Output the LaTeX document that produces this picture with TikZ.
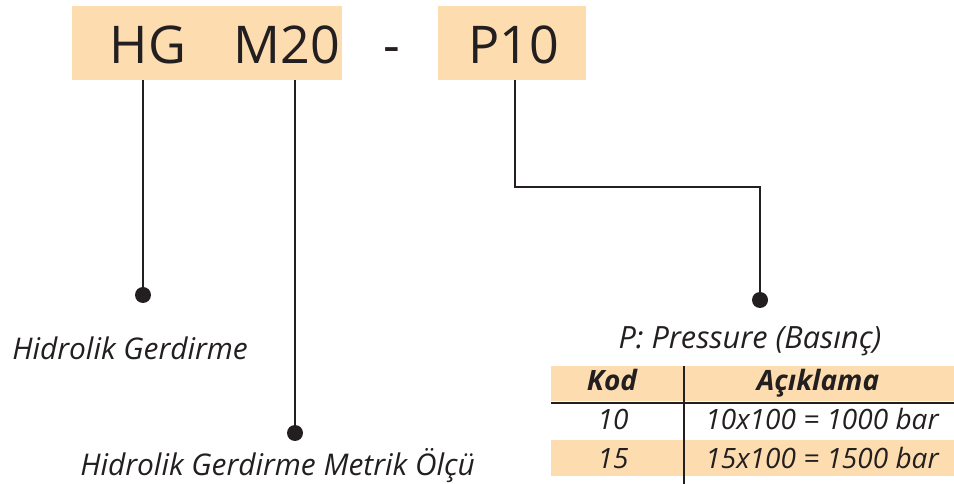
\documentclass[tikz,border=0pt]{standalone}
\usepackage{fontspec}
\setmainfont{Open Sans}
\usetikzlibrary{positioning,calc}
\definecolor{peach}{HTML}{FDDCAF}
\definecolor{inkDark}{HTML}{231F20}
\tikzset{
  code box/.style ={fill=peach,draw=none,inner sep=0pt,
                    minimum height=55.5pt},
  code text/.style={font=\fontsize{39pt}{46pt}\selectfont,text=inkDark,
                    inner sep=0pt,anchor=base},
  lead/.style     ={draw=inkDark,line width=1.1pt},
  pin/.style      ={circle,fill=inkDark,inner sep=0pt,minimum size=12pt},
}
\begin{document}
\begin{tikzpicture}[x=0.75pt,y=-0.75pt,
          every node/.style={text=inkDark},
          label text/.style={font=\fontsize{22.4pt}{26pt}\selectfont\itshape,
                             inner sep=0pt},
          cell/.style={font=\fontsize{21pt}{25pt}\selectfont\itshape,
                       inner sep=0pt,anchor=base},
          head/.style={cell,font=\fontsize{21pt}{25pt}\selectfont\bfseries\itshape},
        ]
        \useasboundingbox (0,0) rectangle (954,484);
        \node[code box,minimum width=202.5pt] (code1) at (207,43) {};
        \node[code box,minimum width=111pt]   (code2) at (512,43) {};
        \node[code text] (hg)   at (148,64) {HG};
        \node[code text] (m20)  at (287,64) {M20};
        \node[code text] (dash) at (392,64) {-};
        \node[code text] (p10)  at (514,64) {P10};
        \node[pin] (d1) at (143,295) {};
        \node[pin] (d2) at (295,433) {};
        \node[pin] (d3) at (760,300) {};
        \coordinate (bend) at (515,187);
        \draw[lead] (d1 |- code1.south) -- (d1);
        \draw[lead] (d2 |- code1.south) -- (d2);
        \draw[lead] (bend |- code2.south) -- (bend) -| (d3);
        \node[label text,anchor=base west] (lbl1) at (12,360) {Hidrolik Gerdirme};
        \node[label text,anchor=base west] (lbl2) at (80,476) {Hidrolik Gerdirme Metrik Ölçü};
        \node[label text,anchor=base,font=\fontsize{23pt}{27pt}\selectfont\itshape]
              (lbl3) at (750,349) {P: Pressure (Basınç)};
        \fill[peach] (551,366) rectangle (954,401);
        \fill[peach] (551,440) rectangle (954,476);
        \draw[inkDark,line width=1.9pt] (551,403) -- (954,403);
        \draw[inkDark,line width=1.1pt] (684,366) -- (684,484);
        \node[head] (hkod) at (612,391) {Kod};
        \node[head] (hack) at (818,391) {Açıklama};
        \node[cell] (k10) at (613,430) {10};
        \node[cell] (a10) at (822,430) {10x100 = 1000 bar};
        \node[cell] (k15) at (613,469) {15};
        \node[cell] (a15) at (822,469) {15x100 = 1500 bar};
      \end{tikzpicture}
\end{document}
